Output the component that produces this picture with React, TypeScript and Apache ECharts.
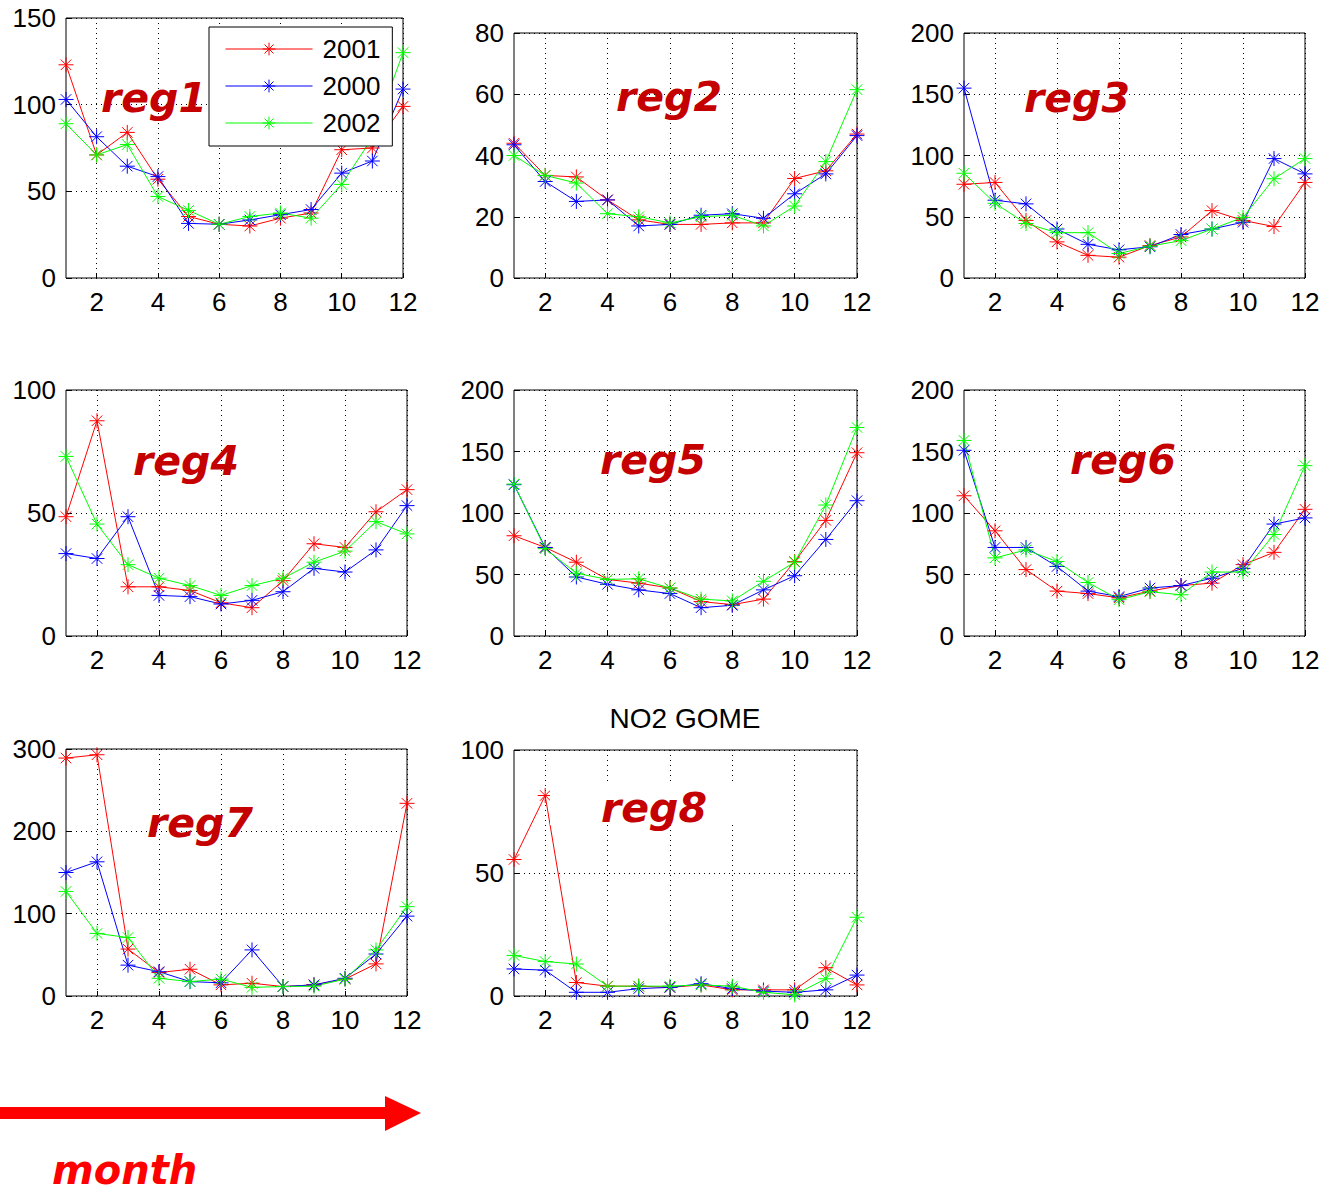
import React, { useEffect, useRef } from 'react';
import * as echarts from 'echarts';

const months = ['1', '2', '3', '4', '5', '6', '7', '8', '9', '10', '11', '12'];
const years = ['2001', '2000', '2002'];
const yearColors = ['#ff0000', '#0000ff', '#00ff00'];
const regionNames = ['reg1', 'reg2', 'reg3', 'reg4', 'reg5', 'reg6', 'reg7', 'reg8'];
const yMax = [150, 80, 200, 100, 200, 200, 300, 100];
const yStep = [50, 20, 50, 50, 50, 50, 100, 50];

const reg1_2001 = [123, 71, 84, 57, 35.5, 31, 30, 34.5, 37.5, 74, 75, 99];
const reg1_2000 = [103, 81.5, 64.5, 58.5, 31.5, 31, 33.5, 36.5, 39.5, 60.5, 67.5, 109];
const reg1_2002 = [89, 71, 77, 47, 39, 31, 35.5, 37.5, 34.5, 54, 81, 130];

const reg2_2001 = [44, 33.5, 33, 25.5, 19, 17.5, 17.5, 18, 18, 32.5, 35, 47];
const reg2_2000 = [43.5, 31.5, 25, 25.5, 17, 17.5, 20.5, 21, 19.5, 27.5, 34, 46.5];
const reg2_2002 = [40, 33.5, 31, 21, 20, 18, 20, 20.5, 17, 23.5, 38, 61.5];

const reg3_2001 = [76.5, 78, 47, 29.5, 18.5, 17, 26.5, 33.5, 55, 47, 42, 78];
const reg3_2000 = [155, 63.5, 60.5, 40, 27.5, 23, 25.5, 35.5, 40, 45.5, 97.5, 85];
const reg3_2002 = [85.5, 61, 44.5, 37, 37, 20, 26, 30.5, 40, 49.5, 81, 97.5];

const reg4_2001 = [48.5, 87.5, 20, 20, 18.5, 13.5, 11.5, 22.5, 37.5, 36, 50.5, 59.5];
const reg4_2000 = [33.5, 31.5, 48.5, 16.5, 16, 13, 14.5, 18, 27.5, 26, 35, 53];
const reg4_2002 = [73, 45.5, 29, 23.5, 20.5, 16.5, 20.5, 23.5, 30, 34.5, 46.5, 41.5];

const reg5_2001 = [81.5, 72, 60, 46, 43, 39, 28, 25.5, 30, 60.5, 94, 149];
const reg5_2000 = [123, 72, 48, 42, 37.5, 34.5, 23, 25, 37.5, 49, 78.5, 110];
const reg5_2002 = [123.5, 71, 51, 46, 46.5, 39, 30, 28.5, 44.5, 60, 106.5, 169.5];

const reg6_2001 = [114, 85.5, 54, 36.5, 34.5, 31, 36.5, 41, 43, 58, 68, 103];
const reg6_2000 = [151, 72, 72, 56.5, 36.5, 32, 39, 41, 47, 55, 91, 96];
const reg6_2002 = [159, 63.5, 70, 60.5, 43.5, 29.5, 36, 33.5, 52, 52, 82.5, 138.5];

const reg7_2001 = [289, 293, 57, 28.5, 32.5, 13.5, 15.5, 11.5, 13.5, 20.5, 39, 234];
const reg7_2000 = [150, 163, 37.5, 29.5, 17.5, 16, 56, 11.5, 13.5, 21.5, 51, 97];
const reg7_2002 = [127, 76, 71, 21.5, 17.5, 20.5, 10.5, 11.5, 12, 20.5, 56, 108.5];

const reg8_2001 = [55.5, 81.5, 5.5, 4, 4, 3.5, 4.5, 2.5, 2.5, 2.5, 11.5, 4.5];
const reg8_2000 = [11, 10.5, 1.5, 1.5, 3, 3.5, 5, 3, 2, 1.5, 2.5, 8.5];
const reg8_2002 = [16.5, 14, 13, 4, 4, 4, 4.5, 4, 1.5, 0.5, 7, 32];

const regionData = [
  [reg1_2001, reg1_2000, reg1_2002],
  [reg2_2001, reg2_2000, reg2_2002],
  [reg3_2001, reg3_2000, reg3_2002],
  [reg4_2001, reg4_2000, reg4_2002],
  [reg5_2001, reg5_2000, reg5_2002],
  [reg6_2001, reg6_2000, reg6_2002],
  [reg7_2001, reg7_2000, reg7_2002],
  [reg8_2001, reg8_2000, reg8_2002],
];

// layout (pixels)
const panels = [
  { left: 66, top: 18, width: 337, height: 260 },
  { left: 514, top: 33, width: 343, height: 245 },
  { left: 964, top: 33, width: 341, height: 245 },
  { left: 66, top: 390, width: 341, height: 246 },
  { left: 514, top: 390, width: 343, height: 246 },
  { left: 964, top: 390, width: 341, height: 246 },
  { left: 66, top: 749, width: 341, height: 247 },
  { left: 514, top: 750, width: 343, height: 246 },
];
const labelPos = [
  [101, 98], [616, 97], [1024, 98], [133, 461], [600, 460], [1070, 460], [147, 823], [601, 808],
];

const STAR = 'path://M8,0 L8,16 M0,8 L16,8 M2.4,2.4 L13.6,13.6 M2.4,13.6 L13.6,2.4';
const FONT = '"Liberation Sans", Arial, sans-serif';
const LABEL_FONT = 'italic bold 41px "DejaVu Sans", sans-serif';

export default function App() {
  const ref = useRef<HTMLDivElement>(null);
  useEffect(() => {
    if (!ref.current) return;
    const chart = echarts.init(ref.current, undefined, { renderer: 'svg' });
    const grids: any[] = [];
    const xAxes: any[] = [];
    const yAxes: any[] = [];
    const series: any[] = [];
    panels.forEach((p, i) => {
      grids.push({
        left: p.left, top: p.top, width: p.width, height: p.height,
        show: true, borderColor: '#000', borderWidth: 1, backgroundColor: '#fff',
      });
      const oddHidden = (idx: number) => idx % 2 === 1;
      xAxes.push({
        gridIndex: i, type: 'category', data: months, boundaryGap: false,
        axisLine: { show: false },
        axisTick: { show: true, inside: true, length: 5, interval: oddHidden, lineStyle: { color: '#000' } },
        axisLabel: { interval: oddHidden, fontSize: 26, color: '#000', fontFamily: FONT, margin: 11 },
        splitLine: { show: true, interval: oddHidden, lineStyle: { type: [1, 4], color: '#000', width: 1 } },
      });
      yAxes.push({
        gridIndex: i, type: 'value', min: 0, max: yMax[i], interval: yStep[i],
        axisLine: { show: false },
        axisTick: { show: true, inside: true, length: 5, lineStyle: { color: '#000' } },
        axisLabel: { fontSize: 26, color: '#000', fontFamily: FONT, margin: 10 },
        splitLine: { show: true, lineStyle: { type: [1, 4], color: '#000', width: 1 } },
      });
      years.forEach((y, k) => {
        series.push({
          name: y, type: 'line', xAxisIndex: i, yAxisIndex: i,
          data: regionData[i][k],
          symbol: STAR, symbolSize: 15, showSymbol: true, showAllSymbol: true,
          lineStyle: { color: yearColors[k], width: 1 },
          itemStyle: { color: yearColors[k], borderColor: yearColors[k], borderWidth: 1 },
          emphasis: { disabled: true },
        });
      });
    });

    const graphics: any[] = [];
    graphics.push({
      type: 'rect', shape: { x: 550, y: 781, width: 198, height: 44 },
      style: { fill: '#fff' }, z: 50,
    });
    regionNames.forEach((name, i) => {
      graphics.push({
        type: 'text', x: labelPos[i][0], y: labelPos[i][1], z: 100,
        style: { text: name, fill: '#c40000', font: LABEL_FONT, align: 'left', verticalAlign: 'middle' },
      });
    });
    graphics.push({
      type: 'text', x: 685, y: 718, z: 100,
      style: { text: 'NO2 GOME', fill: '#000', font: `28px ${FONT}`, align: 'center', verticalAlign: 'middle' },
    });
    graphics.push({
      type: 'rect', shape: { x: 0, y: 1107, width: 388, height: 12 }, style: { fill: '#ff0000' }, z: 100,
    });
    graphics.push({
      type: 'polygon', shape: { points: [[385, 1096], [421, 1113], [385, 1131]] }, style: { fill: '#ff0000' }, z: 100,
    });
    graphics.push({
      type: 'text', x: 52, y: 1170, z: 100,
      style: { text: 'month', fill: '#ff0000', font: 'italic bold 40px "DejaVu Sans", sans-serif', align: 'left', verticalAlign: 'middle' },
    });

    chart.setOption({
      animation: false,
      backgroundColor: '#fff',
      grid: grids,
      xAxis: xAxes,
      yAxis: yAxes,
      series,
      legend: {
        data: years,
        left: 209, top: 27,
        orient: 'vertical',
        backgroundColor: '#fff', borderColor: '#000', borderWidth: 1,
        padding: [9, 12, 10, 16],
        itemWidth: 87, itemHeight: 16, itemGap: 11,
        selectedMode: false,
        textStyle: { fontSize: 26, color: '#000', fontFamily: FONT, lineHeight: 26, padding: [0, 0, 0, 5] },
        itemStyle: { borderWidth: 1 },
        lineStyle: { width: 1 },
        z: 20,
      },
      graphic: graphics,
    });
    return () => chart.dispose();
  }, []);
  return (
    <div
      ref={ref}
      style={{ position: 'absolute', left: 0, top: 0, width: 1327, height: 1195, background: '#fff' }}
    />
  );
}
